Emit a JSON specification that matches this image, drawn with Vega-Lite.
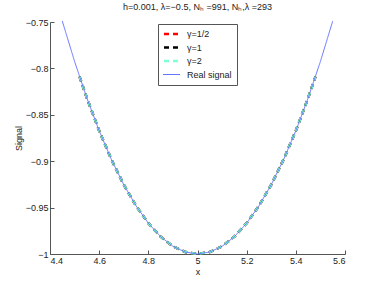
{
  "$schema": "https://vega.github.io/schema/vega-lite/v6.json",
  "autosize": "none",
  "width": 295,
  "height": 232,
  "padding": {"left": 50, "top": 22, "right": 37, "bottom": 33},
  "background": "white",
  "title": {"text": "h=0.001,  λ=−0.5, Nₕ =991,  Nₕ,λ =293", "fontSize": 9, "fontWeight": "normal", "font": "Liberation Sans", "color": "#222", "offset": 6, "anchor": "middle"},
  "config": {
    "view": {"stroke": null},
    "axis": {"domainColor": "#555", "tickColor": "#555", "labelColor": "#222", "labelFont": "Liberation Sans", "labelFontSize": 9, "titleFont": "Liberation Sans", "titleFontSize": 9, "titleFontWeight": "normal", "titleColor": "#222", "grid": false, "tickSize": -4, "labelPadding": 6}
  },
  "data": {"values": [
    {"s": "γ=1/2", "x": 4.52, "y": -0.8088}, {"s": "γ=1/2", "x": 4.55, "y": -0.8319}, {"s": "γ=1/2", "x": 4.6, "y": -0.8672}, {"s": "γ=1/2", "x": 4.65, "y": -0.8983}, {"s": "γ=1/2", "x": 4.7, "y": -0.9253}, {"s": "γ=1/2", "x": 4.75, "y": -0.9481}, {"s": "γ=1/2", "x": 4.8, "y": -0.9668}, {"s": "γ=1/2", "x": 4.85, "y": -0.9813}, {"s": "γ=1/2", "x": 4.9, "y": -0.9917}, {"s": "γ=1/2", "x": 4.95, "y": -0.9979}, {"s": "γ=1/2", "x": 5.0, "y": -1.0}, {"s": "γ=1/2", "x": 5.05, "y": -0.9979}, {"s": "γ=1/2", "x": 5.1, "y": -0.9917}, {"s": "γ=1/2", "x": 5.15, "y": -0.9813}, {"s": "γ=1/2", "x": 5.2, "y": -0.9668}, {"s": "γ=1/2", "x": 5.25, "y": -0.9481}, {"s": "γ=1/2", "x": 5.3, "y": -0.9253}, {"s": "γ=1/2", "x": 5.35, "y": -0.8983}, {"s": "γ=1/2", "x": 5.4, "y": -0.8672}, {"s": "γ=1/2", "x": 5.45, "y": -0.8319}, {"s": "γ=1/2", "x": 5.48, "y": -0.8088},
    {"s": "γ=1", "x": 4.52, "y": -0.8088}, {"s": "γ=1", "x": 4.55, "y": -0.8319}, {"s": "γ=1", "x": 4.6, "y": -0.8672}, {"s": "γ=1", "x": 4.65, "y": -0.8983}, {"s": "γ=1", "x": 4.7, "y": -0.9253}, {"s": "γ=1", "x": 4.75, "y": -0.9481}, {"s": "γ=1", "x": 4.8, "y": -0.9668}, {"s": "γ=1", "x": 4.85, "y": -0.9813}, {"s": "γ=1", "x": 4.9, "y": -0.9917}, {"s": "γ=1", "x": 4.95, "y": -0.9979}, {"s": "γ=1", "x": 5.0, "y": -1.0}, {"s": "γ=1", "x": 5.05, "y": -0.9979}, {"s": "γ=1", "x": 5.1, "y": -0.9917}, {"s": "γ=1", "x": 5.15, "y": -0.9813}, {"s": "γ=1", "x": 5.2, "y": -0.9668}, {"s": "γ=1", "x": 5.25, "y": -0.9481}, {"s": "γ=1", "x": 5.3, "y": -0.9253}, {"s": "γ=1", "x": 5.35, "y": -0.8983}, {"s": "γ=1", "x": 5.4, "y": -0.8672}, {"s": "γ=1", "x": 5.45, "y": -0.8319}, {"s": "γ=1", "x": 5.48, "y": -0.8088},
    {"s": "γ=2", "x": 4.52, "y": -0.8088}, {"s": "γ=2", "x": 4.55, "y": -0.8319}, {"s": "γ=2", "x": 4.6, "y": -0.8672}, {"s": "γ=2", "x": 4.65, "y": -0.8983}, {"s": "γ=2", "x": 4.7, "y": -0.9253}, {"s": "γ=2", "x": 4.75, "y": -0.9481}, {"s": "γ=2", "x": 4.8, "y": -0.9668}, {"s": "γ=2", "x": 4.85, "y": -0.9813}, {"s": "γ=2", "x": 4.9, "y": -0.9917}, {"s": "γ=2", "x": 4.95, "y": -0.9979}, {"s": "γ=2", "x": 5.0, "y": -1.0}, {"s": "γ=2", "x": 5.05, "y": -0.9979}, {"s": "γ=2", "x": 5.1, "y": -0.9917}, {"s": "γ=2", "x": 5.15, "y": -0.9813}, {"s": "γ=2", "x": 5.2, "y": -0.9668}, {"s": "γ=2", "x": 5.25, "y": -0.9481}, {"s": "γ=2", "x": 5.3, "y": -0.9253}, {"s": "γ=2", "x": 5.35, "y": -0.8983}, {"s": "γ=2", "x": 5.4, "y": -0.8672}, {"s": "γ=2", "x": 5.45, "y": -0.8319}, {"s": "γ=2", "x": 5.48, "y": -0.8088},
    {"s": "Real signal", "x": 4.45, "y": -0.749}, {"s": "Real signal", "x": 4.5, "y": -0.7925}, {"s": "Real signal", "x": 4.55, "y": -0.8319}, {"s": "Real signal", "x": 4.6, "y": -0.8672}, {"s": "Real signal", "x": 4.65, "y": -0.8983}, {"s": "Real signal", "x": 4.7, "y": -0.9253}, {"s": "Real signal", "x": 4.75, "y": -0.9481}, {"s": "Real signal", "x": 4.8, "y": -0.9668}, {"s": "Real signal", "x": 4.85, "y": -0.9813}, {"s": "Real signal", "x": 4.9, "y": -0.9917}, {"s": "Real signal", "x": 4.95, "y": -0.9979}, {"s": "Real signal", "x": 5.0, "y": -1.0}, {"s": "Real signal", "x": 5.05, "y": -0.9979}, {"s": "Real signal", "x": 5.1, "y": -0.9917}, {"s": "Real signal", "x": 5.15, "y": -0.9813}, {"s": "Real signal", "x": 5.2, "y": -0.9668}, {"s": "Real signal", "x": 5.25, "y": -0.9481}, {"s": "Real signal", "x": 5.3, "y": -0.9253}, {"s": "Real signal", "x": 5.35, "y": -0.8983}, {"s": "Real signal", "x": 5.4, "y": -0.8672}, {"s": "Real signal", "x": 5.45, "y": -0.8319}, {"s": "Real signal", "x": 5.5, "y": -0.7925}, {"s": "Real signal", "x": 5.55, "y": -0.749}
  ]},
  "encoding": {
    "x": {"field": "x", "type": "quantitative", "scale": {"domain": [4.4, 5.6], "nice": false, "zero": false}, "axis": {"values": [4.4, 4.6, 4.8, 5, 5.2, 5.4, 5.6], "format": "~g", "title": "x", "titlePadding": 2}},
    "y": {"field": "y", "type": "quantitative", "scale": {"domain": [-1, -0.75], "nice": false, "zero": false}, "axis": {"values": [-1, -0.95, -0.9, -0.85, -0.8, -0.75], "format": "~g", "title": "Signal", "titlePadding": 2}},
    "color": {"field": "s", "type": "nominal", "scale": {"domain": ["γ=1/2", "γ=1", "γ=2", "Real signal"], "range": ["#ff0000", "#000000", "#7fffd4", "#5566ff"]}, "legend": {"title": null, "orient": "none", "legendX": 108, "legendY": 2, "padding": 5, "strokeColor": "#555", "fillColor": "white", "labelFont": "Liberation Sans", "labelFontSize": 9, "labelColor": "#222", "symbolType": "stroke", "symbolSize": 625, "clipHeight": 10, "rowPadding": 3.5, "labelOffset": 15, "encode": {"symbols": {"update": {"strokeWidth": {"signal": "datum.value === 'Real signal' ? 0.9 : 2.5"}}}}}},
    "strokeDash": {"field": "s", "type": "nominal", "scale": {"domain": ["γ=1/2", "γ=1", "γ=2", "Real signal"], "range": [[5, 4], [5, 4], [5, 4], [1, 0]]}, "legend": {"title": null}}
  },
  "layer": [
    {"transform": [{"filter": "datum.s === 'γ=1/2'"}], "mark": {"type": "line", "strokeWidth": 2.5}},
    {"transform": [{"filter": "datum.s === 'γ=1'"}], "mark": {"type": "line", "strokeWidth": 2.5}},
    {"transform": [{"filter": "datum.s === 'γ=2'"}], "mark": {"type": "line", "strokeWidth": 2.5}},
    {"transform": [{"filter": "datum.s === 'Real signal'"}], "mark": {"type": "line", "strokeWidth": 0.9}}
  ]
}
